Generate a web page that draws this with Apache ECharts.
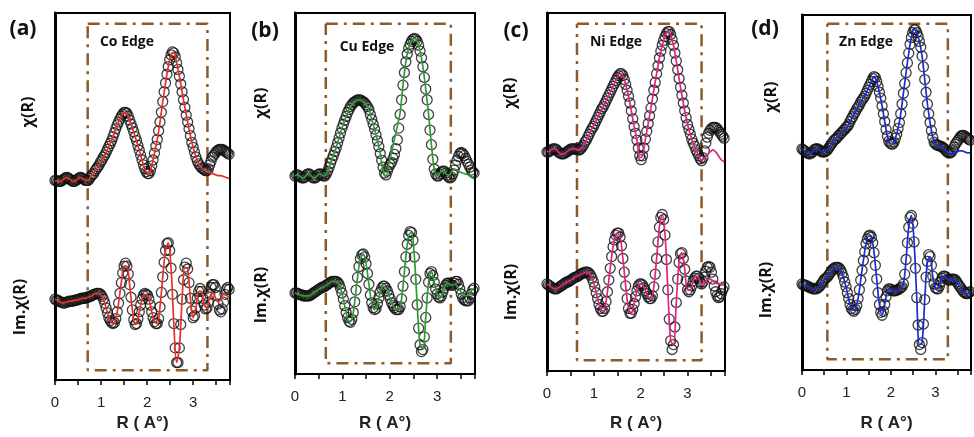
<!DOCTYPE html>
<html><head><meta charset="utf-8">
<script src="https://cdn.jsdelivr.net/npm/echarts@6/dist/echarts.min.js"></script>
<style>html,body{margin:0;padding:0;background:#fff}#c{width:974px;height:437px}</style>
</head><body><div id="c"></div>
<script>
// R grid of the measured points (Å) and of the fit curves
const R = [0,0.03,0.06,0.09,0.12,0.15,0.18,0.21,0.24,0.27,0.3,0.33,0.36,0.39,0.42,0.45,0.48,0.51,0.54,0.57,0.6,0.63,0.66,0.69,0.72,0.75,0.78,0.81,0.84,0.87,0.9,0.93,0.96,0.99,1.02,1.05,1.08,1.11,1.14,1.17,1.2,1.23,1.26,1.29,1.32,1.35,1.38,1.41,1.44,1.47,1.5,1.53,1.56,1.59,1.62,1.65,1.68,1.71,1.74,1.77,1.8,1.83,1.86,1.89,1.92,1.95,1.98,2.01,2.04,2.07,2.1,2.13,2.16,2.19,2.22,2.25,2.28,2.31,2.34,2.37,2.4,2.43,2.46,2.49,2.52,2.55,2.58,2.61,2.64,2.67,2.7,2.73,2.76,2.79,2.82,2.85,2.88,2.91,2.94,2.97,3,3.03,3.06,3.09,3.12,3.15,3.18,3.21,3.24,3.27,3.3,3.33,3.36,3.39,3.42,3.45,3.48,3.51,3.54,3.57,3.6,3.63,3.66,3.69,3.72,3.75,3.78];
const fitR = [0,0.06,0.12,0.18,0.24,0.3,0.36,0.42,0.48,0.54,0.6,0.66,0.72,0.78,0.84,0.9,0.96,1.02,1.08,1.14,1.2,1.26,1.32,1.38,1.44,1.5,1.56,1.62,1.68,1.74,1.8,1.86,1.92,1.98,2.04,2.1,2.16,2.22,2.28,2.34,2.4,2.46,2.52,2.58,2.64,2.7,2.76,2.82,2.88,2.94,3,3.06,3.12,3.18,3.24,3.3,3.36,3.42,3.48,3.54,3.6,3.66,3.72,3.78];

// (a) Co edge  (values in arbitrary offset units)
const coChi = [205,205,204,204,204,205,206,207,208,208,207,206,205,204,204,205,206,207,208,208,207,206,205,205,205,207,209,211,212,215,217,219,221,224,226,229,231,234,237,240,243,246,250,254,258,262,265,268,271,273,275,275,274,271,267,263,259,255,250,246,241,236,231,226,221,217,214,212,212,215,220,226,233,240,247,256,265,275,286,296,305,314,322,329,334,337,336,332,326,319,312,304,296,288,280,272,265,258,251,244,239,234,229,225,222,220,218,217,216,215,215,217,221,225,229,231,233,235,236,237,237,237,236,235,234,233,232];
const coChiFit = [205,204,204,206,208,207,205,204,206,208,207,205,205,209,212,217,221,226,231,237,243,250,258,265,271,275,274,267,259,250,241,231,221,214,212,220,233,247,265,286,305,322,334,336,326,312,296,280,265,251,239,229,222,218,216,215,213,212,211,210,210,209,208,207];
const coIm = [83,82,82,81,80,80,79,79,80,80,81,81,81,81,82,82,82,83,83,84,84,84,84,85,85,86,86,87,88,88,89,89,89,88,86,83,79,74,69,64,61,59,58,59,63,70,79,89,100,110,117,120,117,109,98,85,72,62,57,58,63,70,77,83,87,89,88,87,83,77,70,64,60,58,58,63,75,90,106,121,133,140,141,133,115,88,58,33,18,18,33,57,83,103,116,120,114,100,84,71,64,66,74,84,91,94,91,84,77,73,74,80,88,95,98,98,95,87,78,72,70,73,80,88,93,95,93];
const coImFit = [83,82,80,79,80,81,81,82,82,83,84,84,85,86,88,89,89,86,79,69,61,58,63,79,100,117,117,98,72,57,63,77,87,88,83,70,60,58,75,106,133,141,115,58,18,33,83,116,114,84,64,74,91,91,77,74,85,90,85,80,83,88,87,85];

// (b) Cu edge
const cuChi = [203,204,204,203,202,201,201,202,204,205,205,204,202,201,201,202,204,205,205,204,203,203,205,208,212,216,220,224,228,232,237,242,247,252,256,260,264,268,271,274,276,278,279,280,281,281,281,280,279,278,276,274,271,266,261,256,251,245,239,233,226,219,212,206,204,208,212,215,217,221,225,231,240,252,266,281,296,309,320,328,334,338,341,343,344,343,341,337,331,324,315,304,292,281,266,250,235,220,210,205,203,203,205,207,208,208,206,204,202,201,202,205,209,214,219,223,226,227,226,224,221,218,215,212,209,207,206];
const cuChiFit = [203,204,202,201,204,205,202,201,204,205,203,205,212,220,228,237,247,256,264,271,276,279,281,281,279,276,271,261,251,239,226,208,202,215,228,241,254,268,296,320,334,341,344,341,331,315,292,266,235,210,203,206,209,206,203,207,210,209,207,206,205,204,202,200];
const cuIm = [83,83,82,82,81,81,80,80,80,80,80,81,82,83,84,85,86,87,88,89,89,90,91,92,93,94,95,95,95,95,94,92,88,83,77,70,63,58,54,53,56,63,74,86,99,110,118,122,123,120,113,103,92,81,73,68,66,67,72,78,84,88,90,90,88,85,81,77,73,70,68,66,66,66,69,77,90,105,120,133,142,146,145,137,120,97,71,47,30,23,25,38,58,78,94,103,105,101,94,87,82,79,78,80,84,88,91,93,93,92,91,91,93,95,95,92,87,82,78,76,75,75,75,78,82,86,88];
const cuImFit = [83,82,81,80,80,80,82,84,86,88,89,91,93,95,95,94,88,77,63,54,56,74,99,118,123,113,92,73,66,72,84,90,88,81,73,68,66,69,90,120,142,145,120,71,30,25,58,94,105,94,82,78,84,91,93,91,92,90,86,82,80,81,85,88];

// (c) Ni edge
const niChi = [224,224,225,226,227,227,227,226,224,223,222,222,222,223,224,225,226,227,227,227,227,227,226,226,227,229,231,234,236,239,242,245,248,250,253,256,259,262,265,268,270,273,276,279,282,285,288,291,294,297,300,302,304,304,302,298,293,287,281,274,266,258,250,243,236,228,220,216,220,228,237,245,253,261,269,278,287,295,304,312,320,327,333,338,342,345,347,347,344,339,333,325,317,308,299,290,282,274,266,259,252,247,242,237,233,230,226,223,220,217,215,218,225,233,239,243,246,248,249,249,249,248,246,244,242,240,238];
const niChiFit = [224,225,227,227,224,222,222,224,226,227,227,226,227,231,236,242,248,253,259,265,270,276,282,288,294,300,304,302,293,281,266,250,236,218,220,237,253,269,287,304,320,333,342,347,344,333,317,299,282,266,252,242,233,226,220,215,218,221,224,226,224,220,216,214];
const niIm = [89,88,87,86,85,84,84,84,85,86,87,88,89,90,91,91,92,93,94,95,96,96,97,98,99,100,100,101,101,101,100,98,95,91,86,80,74,68,64,61,61,64,71,81,93,105,117,127,134,139,141,141,137,128,115,101,87,74,64,59,59,63,69,76,82,87,89,89,88,85,82,79,76,74,74,77,86,99,115,132,147,157,160,155,139,114,83,53,31,22,27,45,70,94,111,120,121,115,104,92,83,81,83,87,92,95,97,97,95,91,89,91,96,102,106,107,106,101,94,87,81,77,75,76,79,83,86];
const niImFit = [89,87,85,84,85,87,89,91,92,94,96,97,99,100,101,100,95,86,74,64,61,71,93,117,134,141,137,115,87,64,59,69,82,89,88,82,76,74,86,115,147,160,139,83,31,27,70,111,121,104,83,83,92,97,95,89,90,93,94,92,90,89,89,90];

// (d) Zn edge
const znChi = [226,225,224,223,222,221,221,222,223,225,226,226,226,225,224,223,223,223,224,225,227,229,231,233,235,236,237,239,240,242,243,245,246,248,249,251,254,257,259,262,264,267,269,271,274,276,278,280,283,286,289,292,295,298,300,299,295,290,284,278,270,262,254,246,239,234,232,231,231,233,237,241,247,253,262,272,283,293,304,314,324,333,340,345,348,348,345,341,336,330,321,310,297,284,272,262,253,245,238,233,231,230,230,229,229,228,227,226,224,223,222,222,223,225,228,231,233,235,237,239,240,240,239,238,237,236,235];
const znChiFit = [226,224,222,221,223,226,226,224,223,224,227,231,235,237,240,243,246,249,254,259,264,269,274,278,283,289,295,300,295,284,270,254,239,232,231,237,247,262,283,304,324,340,348,345,336,321,297,272,253,238,231,230,229,227,224,222,221,222,223,224,224,223,222,222];
const znIm = [88,87,87,86,86,85,84,84,83,83,83,83,84,85,87,89,91,93,94,95,97,99,101,103,104,105,105,105,104,102,99,95,90,85,79,73,67,63,61,60,62,66,73,82,92,102,112,121,129,134,137,138,136,130,120,107,93,79,67,59,56,60,67,75,81,83,83,82,81,81,81,82,82,83,84,85,88,98,113,130,146,156,158,150,131,104,74,46,26,21,28,47,72,95,111,118,116,107,96,88,84,83,83,86,90,94,96,96,95,93,92,92,93,93,93,92,90,88,86,84,82,80,79,78,78,79,80];
const znImFit = [88,87,86,84,83,83,84,87,91,94,97,101,104,105,104,99,90,79,67,61,62,73,92,112,129,137,136,120,93,67,56,67,81,83,81,81,82,84,88,113,146,158,131,74,26,28,72,111,116,96,84,83,90,96,95,92,93,93,90,86,82,79,78,80];

// fitting windows [Rmin, Rmax, lower, upper]
const windows = [[0.71,3.31,10,366],[0.65,3.29,11,359],[0.64,3.30,11,355],[0.57,3.28,11,354]];

const panelLetters = ['(a)','(b)','(c)','(d)'];
const edgeNames = ['Co Edge','Cu Edge','Ni Edge','Zn Edge'];
const xTickLabels = ['0','1','2','3'];
const yTitleTop = 'χ(R)';
const yTitleBottom = 'Im.χ(R)';
const xTitle = 'R ( A°)';

const panels = [
  {chi:coChi, chiFit:coChiFit, im:coIm, imFit:coImFit},
  {chi:cuChi, chiFit:cuChiFit, im:cuIm, imFit:cuImFit},
  {chi:niChi, chiFit:niChiFit, im:niIm, imFit:niImFit},
  {chi:znChi, chiFit:znChiFit, im:znIm, imFit:znImFit}
];

// layout & style (positions in px)
const layout = [
  {left:55, top:13, width:175, height:377, color:'#e8302a', letter:[23,29], edge:[127,42], yt:[28,112], yb:[20,307], nameGap:35},
  {left:295, top:13, width:180, height:370, color:'#2f9a36', letter:[265,31], edge:[367,47], yt:[261,103], yb:[261,295], nameGap:41},
  {left:547, top:13, width:178, height:366, color:'#e2237f', letter:[516,31], edge:[616,42], yt:[510,93], yb:[511,292], nameGap:44},
  {left:802, top:15, width:182, height:363, color:'#1d2bd4', letter:[765,29], edge:[866,42], yt:[771,97], yb:[766,290], nameGap:45}
];

const grids=[], xAxes=[], yAxes=[], series=[], graphics=[];
const pair = (xs, ys) => xs.map((x,i)=>[x, ys[i]]);
const boldFont = '"Open Sans", "Liberation Sans", sans-serif';

panels.forEach((p, k) => {
  const L = layout[k];
  grids.push({left:L.left, top:L.top, width:L.width, height:L.height, show:true, borderColor:'#000', borderWidth:2, containLabel:false});
  xAxes.push({
    gridIndex:k, type:'value', min:0, max:3.8, interval:0.5,
    axisLine:{show:true, onZero:false, lineStyle:{color:'#000', width:2}},
    axisTick:{show:true, inside:false, length:5, lineStyle:{color:'#000', width:1.5}},
    axisLabel:{margin:15, fontSize:15, color:'#222', fontFamily:'"Liberation Sans", Arial, sans-serif',
      formatter:v => { const s = String(v); return xTickLabels.indexOf(s) >= 0 ? s : ''; }},
    splitLine:{show:false},
    name:xTitle, nameLocation:'middle', nameGap:L.nameGap,
    nameTextStyle:{fontSize:17, fontWeight:'bold', color:'#222', fontFamily:'"Liberation Sans", Arial, sans-serif'}
  });
  yAxes.push({
    gridIndex:k, type:'value', min:0, max:L.height,
    axisLine:{show:true, lineStyle:{color:'#000', width:3}},
    axisTick:{show:false}, axisLabel:{show:false}, splitLine:{show:false}
  });
  const w = windows[k];
  series.push({
    type:'line', xAxisIndex:k, yAxisIndex:k, silent:true, showSymbol:false, z:1,
    data:[[w[0],w[3]],[w[1],w[3]],[w[1],w[2]],[w[0],w[2]],[w[0],w[3]]],
    lineStyle:{color:'#8d5a2a', width:2.5, type:[12,6,3,6]}
  });
  [['chi','chiFit'],['im','imFit']].forEach(([d,f]) => {
    series.push({
      type:'scatter', xAxisIndex:k, yAxisIndex:k, silent:true, z:2,
      data:pair(R, p[d]), symbol:'circle', symbolSize:10,
      itemStyle:{color:'rgba(0,0,0,0)', borderColor:'#111', borderWidth:1.3}
    });
    series.push({
      type:'line', xAxisIndex:k, yAxisIndex:k, silent:true, z:3,
      data:pair(fitR, p[f]), showSymbol:false, smooth:0.35,
      lineStyle:{color:L.color, width:1.7}
    });
  });
  graphics.push({type:'text', x:L.letter[0], y:L.letter[1], style:{text:panelLetters[k], font:'bold 21px ' + boldFont, fill:'#111', textAlign:'center', textVerticalAlign:'middle'}});
  graphics.push({type:'text', x:L.edge[0], y:L.edge[1], style:{text:edgeNames[k], font:'bold 14px ' + boldFont, fill:'#111', textAlign:'center', textVerticalAlign:'middle'}});
  graphics.push({type:'text', x:L.yt[0], y:L.yt[1], rotation:Math.PI/2, style:{text:yTitleTop, font:'bold 16px ' + boldFont, fill:'#111', textAlign:'center', textVerticalAlign:'middle'}});
  graphics.push({type:'text', x:L.yb[0], y:L.yb[1], rotation:Math.PI/2, style:{text:yTitleBottom, font:'bold 16px ' + boldFont, fill:'#111', textAlign:'center', textVerticalAlign:'middle'}});
});

const chart = echarts.init(document.getElementById('c'), null, {renderer:'canvas'});
chart.setOption({
  animation:false, backgroundColor:'#fff',
  grid:grids, xAxis:xAxes, yAxis:yAxes, series:series, graphic:graphics
});
</script></body></html>
